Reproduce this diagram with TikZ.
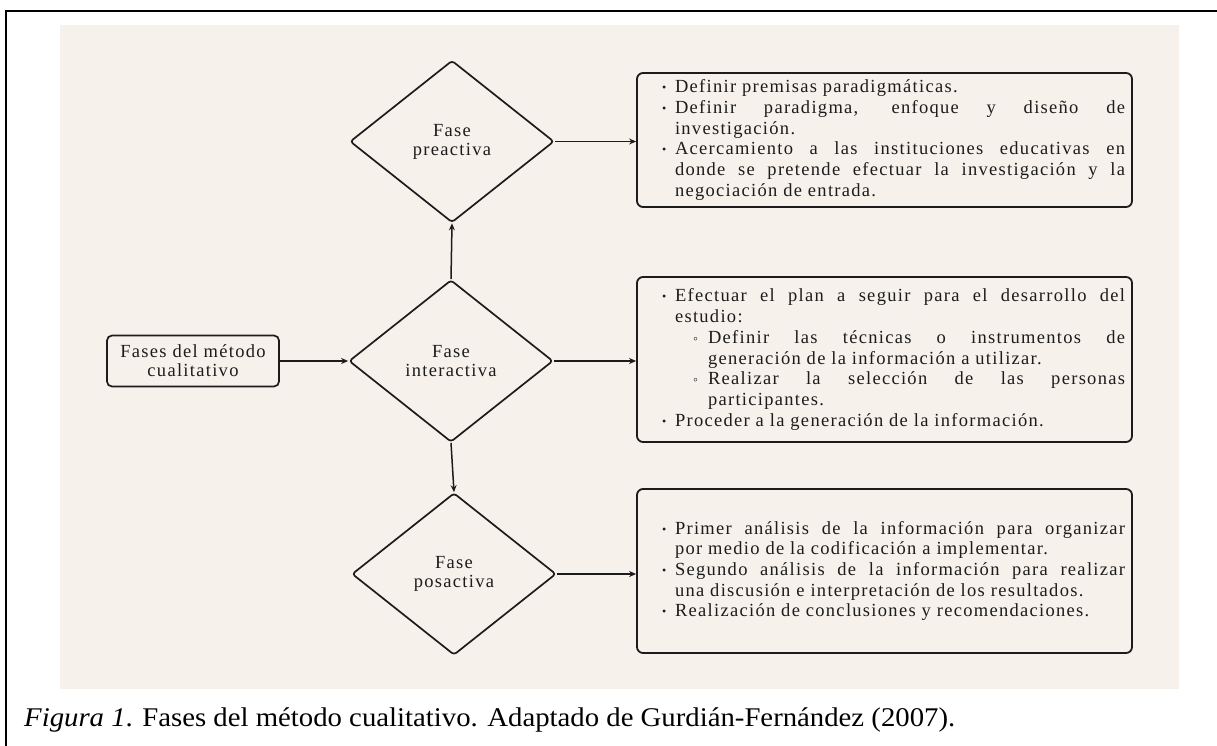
\documentclass[tikz,border=0pt]{standalone}
\usepackage{fontspec}
\setmainfont{Liberation Serif}
\newfontfamily\trk[LetterSpace=7]{Liberation Serif}
\usetikzlibrary{shapes.geometric,arrows.meta}
\definecolor{bg}{HTML}{F6F2EB}
\definecolor{ink}{HTML}{1C1C1C}
\newcommand\bul{{\fontsize{12}{12}\selectfont\raisebox{1pt}{•}}}
\newcommand\cir{{\fontsize{14}{14}\selectfont ◦}}
\newcommand\bi[1]{\par\leftskip=13pt\noindent\llap{\makebox[13pt][l]{\bul}}#1\par}
\newcommand\bii[1]{\par\leftskip=46pt\noindent\llap{\makebox[15pt][l]{\cir}}#1\par}
\newcommand\listbox[1]{\makebox[495pt][l]{\hspace*{25pt}\parbox[c]{463pt}{\trk\fontsize{18.5}{20.7}\selectfont\parindent=0pt\parskip=0pt #1}}}
\begin{document}
\begin{tikzpicture}[x=1pt,y=-1pt,
  phase/.style={diamond,draw=ink,line width=1.7pt,rounded corners=3pt,minimum width=204pt,minimum height=162pt,inner sep=0pt,aspect=1.26,text=ink,font=\trk\fontsize{18.5}{19}\selectfont,align=center},
  startbox/.style={draw=ink,line width=1.7pt,rounded corners=5pt,minimum width=172pt,minimum height=51pt,inner sep=0pt,text=ink,font=\trk\fontsize{18.5}{19}\selectfont,align=center},
  infobox/.style={draw=ink,line width=1.8pt,rounded corners=6pt,minimum width=495pt,inner sep=0pt,text=ink},
  conn/.style={draw=ink,line width=1.5pt,-{Stealth[length=7pt,width=6pt]}}]
\useasboundingbox (0,0) rectangle (1217,746);
\fill[white] (0,0) rectangle (1217,746);
\fill[bg] (60,25) rectangle (1179,689);
\draw[line width=2.4pt,black] (6,746) -- (6,11) -- (1217,11);

\node[startbox] (src) at (193,361) {Fases del método\\cualitativo};
\node[phase] (int) at (451,361) {Fase\\interactiva};
\node[phase] (pre) at (452,141.5) {Fase\\preactiva};
\node[phase] (pos) at (454,574) {Fase\\posactiva};

\node[infobox,minimum height=134pt] (b1) at (884.5,140) {\listbox{%
\bi{Definir premisas paradigmáticas.}
\bi{Definir paradigma, enfoque y diseño de\linebreak investigación.}
\bi{Acercamiento a las instituciones educativas en\linebreak donde se pretende efectuar la investigación y la\linebreak negociación de entrada.}}};

\node[infobox,minimum height=165pt] (b2) at (884.5,359.5) {\listbox{%
\bi{Efectuar el plan a seguir para el desarrollo del\linebreak estudio:}
\bii{Definir las técnicas o instrumentos de\linebreak generación de la información a utilizar.}
\bii{Realizar la selección de las personas\linebreak participantes.}
\bi{Proceder a la generación de la información.}}};

\node[infobox,minimum height=164pt] (b3) at (884.5,571) {\listbox{%
\bi{Primer análisis de la información para organizar\linebreak por medio de la codificación a implementar.}
\bi{Segundo análisis de la información para realizar\linebreak una discusión e interpretación de los resultados.}
\bi{Realización de conclusiones y recomendaciones.}}};

\draw[conn] (src.east) -- (int.west);
\draw[conn] (int.north) -- (pre.south);
\draw[conn] (int.south) -- (pos.north);
\draw[conn] (pre.east) -- (pre.east -| b1.west);
\draw[conn] (int.east) -- (int.east -| b2.west);
\draw[conn] (pos.east) -- (pos.east -| b3.west);

\node[anchor=base west,inner sep=0pt,font=\fontsize{27}{30}\selectfont,text=black] (cap) at (24,726) {\resizebox{931pt}{\height}{\textit{Figura 1}. Fases del método cualitativo. Adaptado de Gurdián-Fernández (2007).}};
\end{tikzpicture}
\end{document}
